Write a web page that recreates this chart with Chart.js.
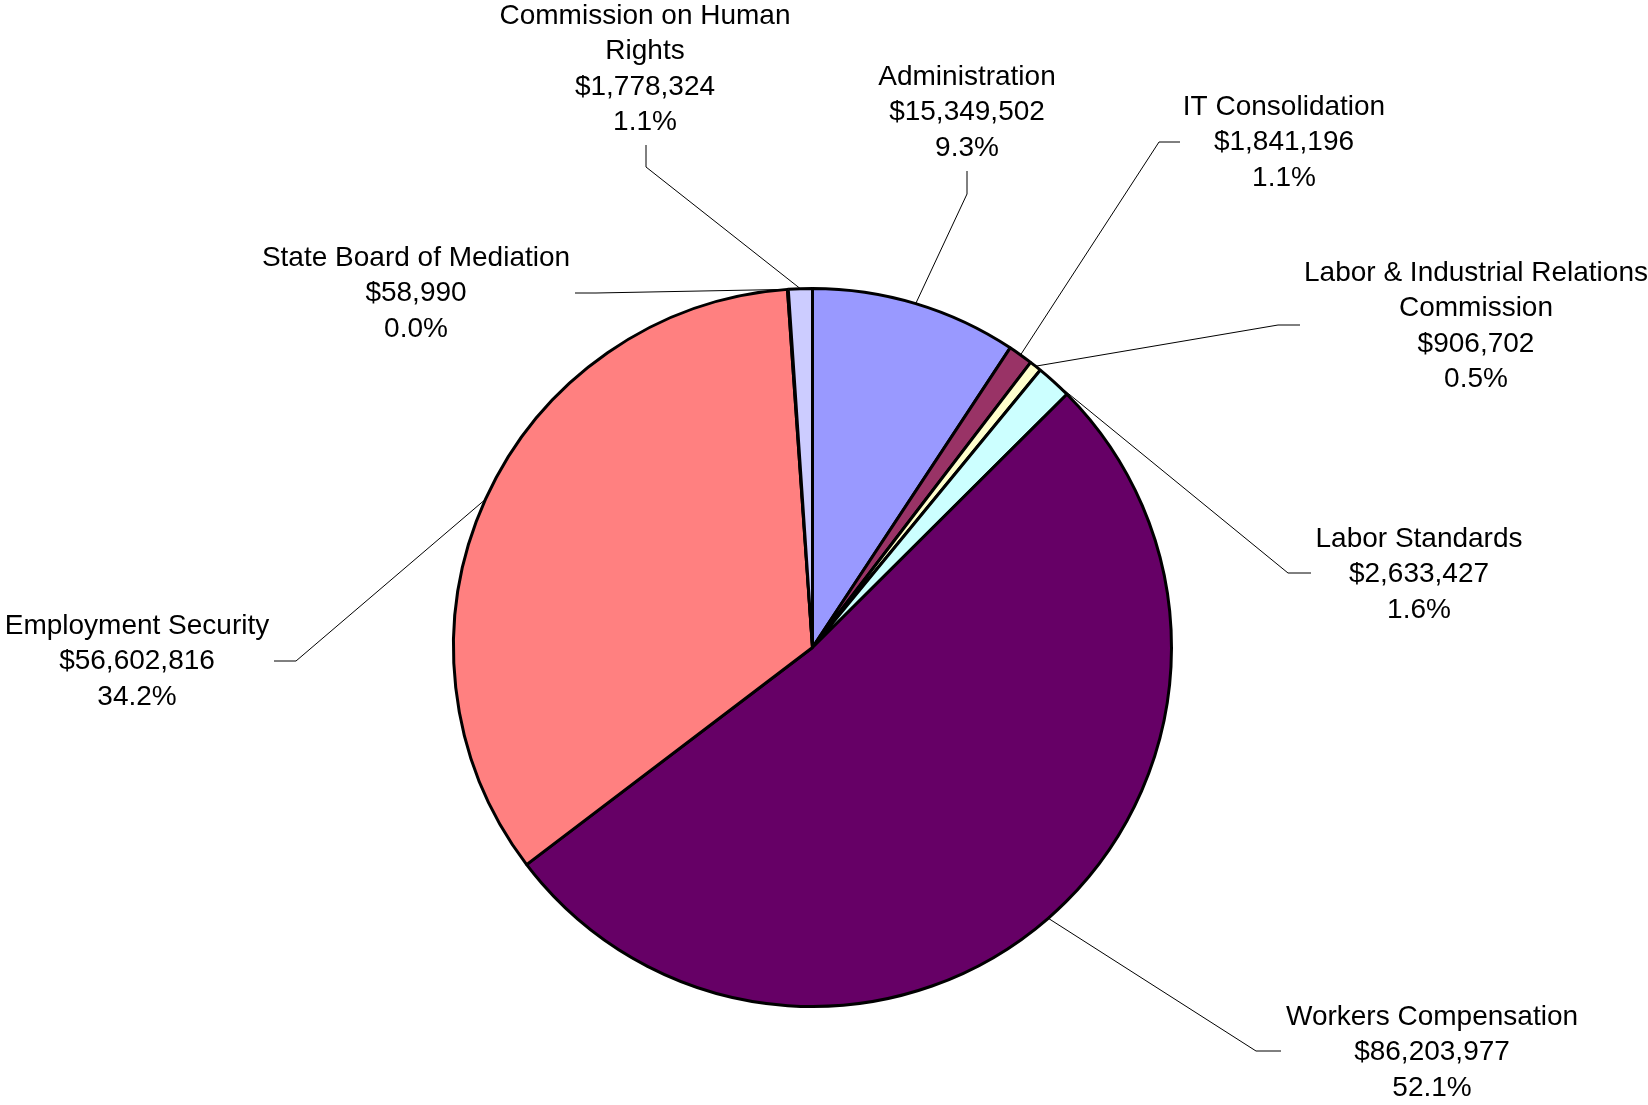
<!DOCTYPE html>
<html>
<head>
<meta charset="utf-8">
<script src="https://cdn.jsdelivr.net/npm/chart.js@4/dist/chart.umd.min.js"></script>
<style>
  html, body { margin: 0; padding: 0; background: #fff; }
  #wrap { width: 1648px; height: 1105px; position: relative; }
</style>
</head>
<body>
<div id="wrap"><canvas id="c" width="1648" height="1105"></canvas></div>
<script>
// ---- data ----
const categories = [
  "Administration",
  "IT Consolidation",
  "Labor & Industrial Relations Commission",
  "Labor Standards",
  "Workers Compensation",
  "Employment Security",
  "State Board of Mediation",
  "Commission on Human Rights"
];
const values = [15349502, 1841196, 906702, 2633427, 86203977, 56602816, 58990, 1778324];
const labelLines = [
  ["Administration"],
  ["IT Consolidation"],
  ["Labor & Industrial Relations", "Commission"],
  ["Labor Standards"],
  ["Workers Compensation"],
  ["Employment Security"],
  ["State Board of Mediation"],
  ["Commission on Human", "Rights"]
];
const colors = ["#9999FF", "#993366", "#FFFFCC", "#CCFFFF", "#660066", "#FF8080", "#0066CC", "#CCCCFF"];

// ---- label layout (text centre x, first line y, leader elbow, leader end) ----
const labelLayout = [
  { x: 967,  y: 77,   elbow: [967, 194],  end: [967, 171] },
  { x: 1284, y: 107,  elbow: [1159, 142], end: [1180, 142] },
  { x: 1476, y: 273,  elbow: [1278, 325], end: [1300, 325] },
  { x: 1419, y: 539,  elbow: [1288, 573], end: [1311, 573] },
  { x: 1432, y: 1017, elbow: [1256, 1051], end: [1281, 1051] },
  { x: 137,  y: 626,  elbow: [296, 661],  end: [274, 661] },
  { x: 416,  y: 258,  elbow: [596, 293],  end: [575, 293] },
  { x: 645,  y: 16,   elbow: [646, 167],  end: [646, 145] }
];
const lineHeight = 35.4;

const total = values.reduce((a, b) => a + b, 0);

const labelPlugin = {
  id: 'pieLabels',
  afterDatasetsDraw(chart) {
    const ctx = chart.ctx;
    const meta = chart.getDatasetMeta(0);
    ctx.save();
    // leader lines
    ctx.strokeStyle = '#000';
    ctx.lineWidth = 1;
    meta.data.forEach((arc, i) => {
      const p = arc.getProps(['x', 'y', 'startAngle', 'endAngle', 'outerRadius'], true);
      const mid = (p.startAngle + p.endAngle) / 2;
      const ax = p.x + Math.cos(mid) * p.outerRadius;
      const ay = p.y + Math.sin(mid) * p.outerRadius;
      const L = labelLayout[i];
      ctx.beginPath();
      ctx.moveTo(ax, ay);
      ctx.lineTo(L.elbow[0], L.elbow[1]);
      ctx.lineTo(L.end[0], L.end[1]);
      ctx.stroke();
    });
    // texts
    ctx.fillStyle = '#000';
    ctx.font = '28px "Liberation Sans", Arial, sans-serif';
    ctx.textAlign = 'center';
    ctx.textBaseline = 'middle';
    values.forEach((v, i) => {
      const L = labelLayout[i];
      const lines = labelLines[i].concat([
        '$' + v.toLocaleString('en-US'),
        (v / total * 100).toFixed(1) + '%'
      ]);
      lines.forEach((t, k) => ctx.fillText(t, L.x, L.y + k * lineHeight));
    });
    ctx.restore();
  }
};

new Chart(document.getElementById('c'), {
  type: 'pie',
  data: {
    labels: categories,
    datasets: [{
      data: values,
      backgroundColor: colors,
      borderColor: '#000',
      borderWidth: 3
    }]
  },
  options: {
    responsive: false,
    animation: false,
    radius: 359,
    layout: { padding: { left: 0, right: 23, top: 190, bottom: 0 } },
    plugins: {
      legend: { display: false },
      tooltip: { enabled: false }
    }
  },
  plugins: [labelPlugin]
});
</script>
</body>
</html>
